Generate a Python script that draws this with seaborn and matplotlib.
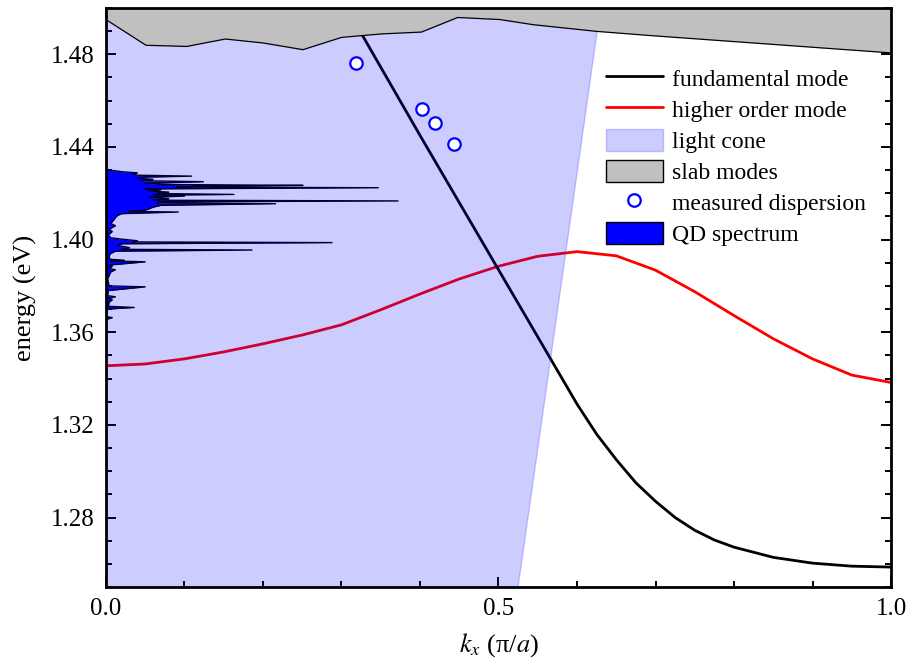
import numpy as np
import pandas as pd
import matplotlib
matplotlib.use('Agg')
import matplotlib.pyplot as plt
from matplotlib.lines import Line2D
from matplotlib.patches import Patch
from matplotlib.ticker import MultipleLocator
import seaborn as sns

sns.set_style('ticks')
matplotlib.rcParams.update({'font.family': ['Liberation Serif', 'DejaVu Serif'],
                            'mathtext.fontset': 'stix',
                            'text.color': 'k', 'axes.labelcolor': 'k',
                            'xtick.color': 'k', 'ytick.color': 'k',
                            'axes.edgecolor': 'k'})

##################################################################
#### data
##################################################################
# fundamental mode (black)
fund_k = [0.327, 0.40, 0.45, 0.50, 0.55, 0.60, 0.625, 0.65, 0.675, 0.70, 0.725, 0.75,
          0.775, 0.80, 0.85, 0.90, 0.95, 1.00]
fund_E = [1.488, 1.445, 1.416, 1.387, 1.358, 1.329, 1.316, 1.305, 1.295, 1.287, 1.280, 1.2745,
          1.2703, 1.2672, 1.2628, 1.2603, 1.2590, 1.2586]

# higher order mode (red)
high_k = [0.00, 0.05, 0.10, 0.15, 0.20, 0.25, 0.30, 0.35, 0.40, 0.45, 0.50, 0.55, 0.60,
          0.65, 0.70, 0.75, 0.80, 0.85, 0.90, 0.95, 1.00]
high_E = [1.3455, 1.3463, 1.3485, 1.3515, 1.3550, 1.3588, 1.3632, 1.3697, 1.3765, 1.3830,
          1.3885, 1.3928, 1.3948, 1.3930, 1.3868, 1.3775, 1.3672, 1.3572, 1.3485, 1.3415, 1.3383]

# light line (edge of light cone)
cone_E = [1.25, 1.50]
cone_k = [0.525, 0.630]

# slab modes lower boundary
slab_k = [0.0, 0.051, 0.103, 0.152, 0.20, 0.251, 0.30, 0.351, 0.402, 0.448, 0.502, 0.544,
          0.625, 0.693, 1.0]
slab_E = [1.4950, 1.4839, 1.4834, 1.4866, 1.4849, 1.4820, 1.4873, 1.4888, 1.4896, 1.4959,
          1.4950, 1.4928, 1.4899, 1.4881, 1.4806]

# measured dispersion
meas_k = [0.318, 0.403, 0.419, 0.443]
meas_E = [1.4761, 1.4563, 1.4503, 1.4412]

# QD spectrum (intensity in units of k axis)
qd_E = [1.3655, 1.3663, 1.3668, 1.3700, 1.3707, 1.3712, 1.3730, 1.3740, 1.3745, 1.3753,
        1.3758, 1.3780, 1.3796, 1.3800, 1.3830, 1.3860, 1.3870, 1.3875, 1.3885, 1.3890,
        1.3904, 1.3908, 1.3911, 1.3915, 1.3930, 1.3940, 1.3950, 1.3955, 1.3958, 1.3965,
        1.3975, 1.3982, 1.3987, 1.3990, 1.3995, 1.4002, 1.4008, 1.4020, 1.4035, 1.4045,
        1.4060, 1.4070, 1.4085, 1.4095, 1.4105, 1.4112, 1.4119, 1.4122, 1.4127, 1.4133,
        1.4140, 1.4148, 1.4155, 1.4158, 1.4163, 1.4167, 1.4170, 1.4176, 1.4182, 1.4188,
        1.4192, 1.4195, 1.4199, 1.4205, 1.4210, 1.4215, 1.4219, 1.4224, 1.4227, 1.4231,
        1.4234, 1.4238, 1.4243, 1.4250, 1.4254, 1.4260, 1.4265, 1.4270, 1.4274, 1.4278,
        1.4283, 1.4288, 1.4293, 1.4298, 1.4302]
qd_I = [0.000, 0.008, 0.000, 0.002, 0.036, 0.003, 0.004, 0.008, 0.002, 0.012,
        0.002, 0.003, 0.050, 0.004, 0.002, 0.006, 0.012, 0.004, 0.008, 0.004,
        0.050, 0.006, 0.023, 0.005, 0.004, 0.006, 0.012, 0.186, 0.020, 0.030,
        0.015, 0.020, 0.288, 0.035, 0.040, 0.020, 0.006, 0.003, 0.008, 0.004,
        0.012, 0.006, 0.010, 0.012, 0.015, 0.020, 0.092, 0.030, 0.050, 0.055,
        0.060, 0.070, 0.216, 0.065, 0.070, 0.372, 0.060, 0.080, 0.055, 0.100,
        0.060, 0.163, 0.065, 0.080, 0.055, 0.070, 0.050, 0.347, 0.090, 0.120,
        0.251, 0.070, 0.050, 0.124, 0.045, 0.060, 0.040, 0.050, 0.109, 0.040,
        0.035, 0.040, 0.020, 0.010, 0.000]

df_fund = pd.DataFrame({'k': fund_k, 'E': fund_E})
df_high = pd.DataFrame({'k': high_k, 'E': high_E})
df_meas = pd.DataFrame({'k': meas_k, 'E': meas_E})

##################################################################
#### figure
##################################################################
fig = plt.figure(figsize=[9.08, 6.6], dpi=100)
ax = fig.add_axes([0.1167, 0.1106, 0.8646, 0.8773])

sns.lineplot(data=df_high, x='k', y='E', ax=ax, color='#ff0000', lw=2, sort=False, zorder=2)
sns.lineplot(data=df_fund, x='k', y='E', ax=ax, color='k', lw=2, sort=False, zorder=2)

ax.fill_betweenx(qd_E, 0, qd_I, color='#0000ff', lw=0, zorder=3)
ax.plot(qd_I, qd_E, color='k', lw=1.0, zorder=3)

# light cone on top (transparent blue)
ax.fill([0, cone_k[0], cone_k[1], 0], [cone_E[0], cone_E[0], cone_E[1], cone_E[1]],
        facecolor='#0000ff', edgecolor='#0000ff', alpha=0.2, lw=1, zorder=4)

# slab modes
ax.fill_between(slab_k, slab_E, 1.50, facecolor='#c0c0c0', edgecolor='none', zorder=5)
ax.plot(slab_k, slab_E, color='k', lw=0.9, zorder=5)

sns.scatterplot(data=df_meas, x='k', y='E', ax=ax, s=80, facecolor='white',
                edgecolor='#0000ff', linewidth=1.6, zorder=6)

ax.set_xlim(0, 1.0)
ax.set_ylim(1.25, 1.50)
ax.set_xticks([0.0, 0.5, 1.0])
ax.set_xticklabels(['0.0', '0.5', '1.0'])
ax.xaxis.set_minor_locator(MultipleLocator(0.1))
ax.set_yticks([1.28, 1.32, 1.36, 1.40, 1.44, 1.48])
ax.set_yticklabels(['1.28', '1.32', '1.36', '1.40', '1.44', '1.48'])
ax.yaxis.set_minor_locator(MultipleLocator(0.01))
ax.tick_params(which='both', direction='in', top=True, right=True, width=1.4, labelsize=18)
ax.tick_params(which='major', length=7, pad=8)
ax.tick_params(which='minor', length=4)
for sp in ax.spines.values():
    sp.set_linewidth(2)
    sp.set_color('k')
    sp.set_zorder(10)

fz = 19
ax.set_xlabel(r'$k_x$ (π/$a$)', fontsize=fz, labelpad=8)
ax.set_ylabel('energy (eV)', fontsize=fz, labelpad=10)

handles = [Line2D([], [], color='k', lw=2),
           Line2D([], [], color='#ff0000', lw=2),
           Patch(facecolor='#0000ff', edgecolor='#0000ff', alpha=0.2, lw=1),
           Patch(facecolor='#c0c0c0', edgecolor='k', lw=1),
           Line2D([], [], ls='none', marker='o', ms=9, mfc='white', mec='#0000ff', mew=1.6),
           Patch(facecolor='#0000ff', edgecolor='k', lw=1)]
labels = ['fundamental mode', 'higher order mode', 'light cone', 'slab modes',
          'measured dispersion', 'QD spectrum']
leg = ax.legend(handles, labels, loc='upper left', bbox_to_anchor=(0.625, 0.915),
                frameon=False, fontsize=17, handlelength=2.4, handleheight=1.1,
                labelspacing=0.28, handletextpad=0.4, borderaxespad=0)
leg.set_zorder(11)

plt.savefig('out.png', dpi=100)
